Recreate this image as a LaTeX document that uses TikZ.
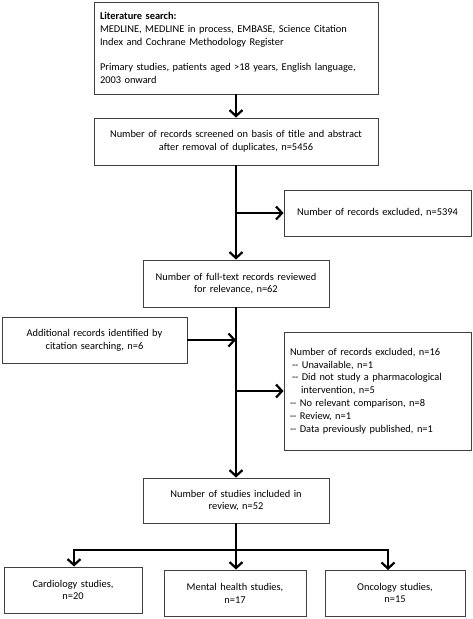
\documentclass[tikz,border=0pt]{standalone}
\usepackage{fontspec}
\setmainfont{Carlito}
\usetikzlibrary{arrows.meta}
\newcommand{\dd}{{-}{-}}
\begin{document}
\begin{tikzpicture}[x=1pt,y=-1pt,
  box/.style={draw=black!75, line width=0.9pt, inner sep=0pt, font=\fontsize{10.4}{12.8}\selectfont, align=center},
  arr/.style={line width=2.2pt, -{Straight Barb[length=6pt,width=13pt,line width=2.2pt]}},
  ln/.style={line width=2.2pt}]
\useasboundingbox (0,0) rectangle (472,619);
\node[box, minimum width=284pt, minimum height=92pt, text width=272pt, align=left] (lit) at (236,48)
 {\textbf{Literature search:}\\MEDLINE, MEDLINE in process, EMBASE, Science Citation\\Index and Cochrane Methodology Register\\[12.8pt]Primary studies, patients aged >18 years, English language,\\2003 onward};
\node[box, minimum width=284pt, minimum height=47pt, text width=276pt] (screen) at (236,141.5)
 {Number of records screened on basis of title and abstract\\after removal of duplicates, n=5456};
\node[box, minimum width=187pt, minimum height=46pt, text width=180pt] (excl1) at (377.5,213)
 {Number of records excluded, n=5394};
\node[box, minimum width=186pt, minimum height=47pt, text width=180pt] (full) at (236,283.5)
 {Number of full-text records reviewed\\for relevance, n=62};
\node[box, minimum width=185pt, minimum height=46pt, text width=180pt] (addl) at (94.5,340)
 {Additional records identified by\\citation searching, n=6};
\node[box, minimum width=187pt, minimum height=118pt, text width=175pt, align=left] (excl2) at (377.5,391)
 {Number of records excluded, n=16\\\hspace*{2pt}\dd{} Unavailable, n=1\\\hspace*{2pt}\dd{} Did not study a pharmacological\\\hspace*{11pt}intervention, n=5\\\dd{} No relevant comparison, n=8\\\dd{} Review, n=1\\\dd{} Data previously published, n=1};
\node[box, minimum width=186pt, minimum height=45pt, text width=180pt] (incl) at (236,500.5)
 {Number of studies included in\\review, n=52};
\node[box, minimum width=138pt, minimum height=46pt, text width=130pt] (cardio) at (73,590)
 {Cardiology studies,\\n=20};
\node[box, minimum width=142pt, minimum height=46pt, text width=134pt] (mental) at (235,593)
 {Mental health studies,\\n=17};
\node[box, minimum width=140pt, minimum height=46pt, text width=132pt] (onc) at (395,593)
 {Oncology studies,\\n=15};
\coordinate (b1) at (236,213);
\coordinate (b2) at (236,340);
\coordinate (b3) at (236,391);
\coordinate (sp) at (236,550);
\coordinate (spl) at (74,550);
\coordinate (spr) at (388,550);
\coordinate (onctop) at (388,570);
\draw[arr] (lit.south -| screen.north) -- (screen.north);
\draw[arr] (screen.south -| full.north) -- (full.north);
\draw[arr] (b1) -- (excl1.west);
\draw[arr] (full.south) -- (incl.north);
\draw[arr] (addl.east) -- (b2);
\draw[arr] (b3) -- (excl2.west);
\draw[ln] (incl.south) -- (sp);
\draw[ln, line cap=rect] (spl) -- (spr);
\draw[arr] (spl) -- (spl |- cardio.north);
\draw[arr] (sp) -- (sp |- mental.north);
\draw[arr] (spr) -- (onctop);
\end{tikzpicture}
\end{document}
